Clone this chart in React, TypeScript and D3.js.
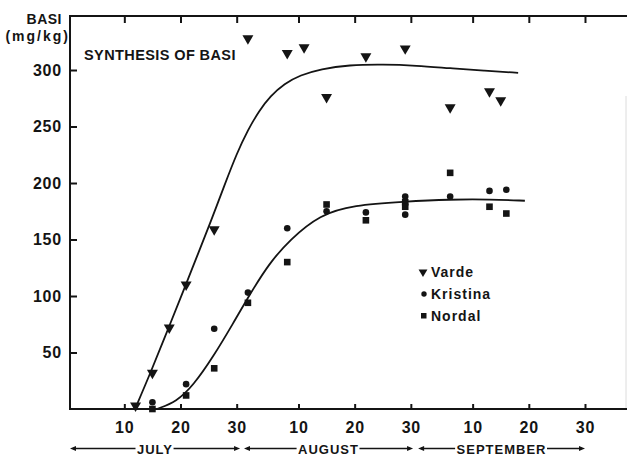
import { useEffect, useRef } from 'react';
import * as d3 from 'd3';

const W = 627;
const H = 456;
const INK = '#141414';
const FONT = '"Liberation Sans", Arial, Helvetica, sans-serif';

// days counted from June 30 (July 1 = 1, August 1 = 32, September 1 = 63)
const vardeDays = [12, 15, 18, 21, 26, 32, 39, 42, 46, 53, 60, 68, 75, 77];
const vardeValues = [3, 32, 72, 110, 159, 328, 315, 320, 276, 312, 319, 267, 281, 273];
const kristinaDays = [15, 21, 26, 32, 39, 46, 53, 60, 60, 68, 75, 78];
const kristinaValues = [6, 22, 71, 103, 160, 175, 174, 188, 172, 188, 193, 194];
const nordalDays = [15, 21, 26, 32, 39, 46, 53, 60, 60, 68, 75, 78];
const nordalValues = [0, 12, 36, 94, 130, 181, 167, 183, 179, 209, 179, 173];

// fitted curves
const vardeFitDays = [11.9, 14.75, 17.8, 20.8, 23, 25.25, 27.9, 30, 32, 34, 36, 38.5, 41.3, 45, 50, 56, 62, 68, 74, 80.1];
const vardeFitValues = [0, 33, 71, 108, 136, 164, 199, 226, 247, 264, 277, 288, 295.5, 301, 304.5, 305, 304, 301.5, 299.5, 297.5];
const basiFitDays = [15.8, 19.3, 22.3, 25.8, 29.4, 32.4, 35.8, 39.5, 44.8, 50.8, 59.7, 68, 75.1, 81.3];
const basiFitValues = [0, 6.5, 21, 46, 76, 102, 129, 150, 172, 180.5, 183.5, 185.5, 185.5, 184.3];

// axes
const xTickDays = [10, 20, 30, 41, 51, 61, 72, 82, 92];
const xTickLabels = ['10', '20', '30', '10', '20', '30', '10', '20', '30'];
const yTicks = [50, 100, 150, 200, 250, 300];

// month arrows under the axis
const monthNames = ['JULY', 'AUGUST', 'SEPTEMBER'];
const monthStart = [0.33, 31.3, 62.3];
const monthEnd = [30.6, 61.4, 92];

const legendNames = ['Varde', 'Kristina', 'Nordal'];

export default function App() {
  const svgRef = useRef<SVGSVGElement>(null);

  useEffect(() => {
    if (!svgRef.current) return;
    const svg = d3.select(svgRef.current);
    svg.selectAll('*').remove();

    const left = 70, right = 626, top = 16, bottom = 409;
    const x = d3.scaleLinear().domain([0.33, 99.3]).range([left, right]);
    const y = d3.scaleLinear().domain([0, 347.8]).range([bottom, top]);

    svg.append('rect').attr('width', W).attr('height', H).attr('fill', '#fff');

    // faint right edge of the frame
    svg.append('line')
      .attr('x1', right).attr('x2', right).attr('y1', top + 80).attr('y2', bottom)
      .attr('stroke', '#dcdcdc').attr('stroke-width', 1);

    // bottom axis
    const gx = svg.append('g').attr('transform', `translate(0,${bottom})`)
      .call(d3.axisBottom(x).tickValues(xTickDays)
        .tickFormat((_, i) => xTickLabels[i])
        .tickSizeInner(-5).tickSizeOuter(0).tickPadding(13));
    gx.select('.domain').remove();

    // top ticks
    const gt = svg.append('g').attr('transform', `translate(0,${top})`)
      .call(d3.axisTop(x).tickValues(xTickDays).tickFormat(() => '')
        .tickSizeInner(-7).tickSizeOuter(0));
    gt.select('.domain').remove();

    // left axis
    const gy = svg.append('g').attr('transform', `translate(${left},0)`)
      .call(d3.axisLeft(y).tickValues(yTicks).tickSizeInner(-7).tickSizeOuter(0).tickPadding(8));
    gy.select('.domain').remove();

    svg.selectAll('.tick line').attr('stroke', INK).attr('stroke-width', 2);
    svg.selectAll('.tick text')
      .attr('fill', INK)
      .style('font-family', FONT)
      .style('font-size', '16px')
      .style('font-weight', 'bold')
      .style('letter-spacing', '0.8px');

    // frame lines
    const frame = svg.append('g').attr('stroke', INK).attr('stroke-width', 2).attr('fill', 'none');
    frame.append('line').attr('x1', left).attr('x2', W).attr('y1', top).attr('y2', top);
    frame.append('line').attr('x1', left).attr('x2', W).attr('y1', bottom).attr('y2', bottom);
    frame.append('line').attr('x1', left).attr('x2', left).attr('y1', top - 1).attr('y2', bottom + 1);

    // fitted curves
    const line = d3.line<number>()
      .curve(d3.curveBasis);
    svg.append('path')
      .attr('d', line.x(d => x(d)).y((_, i) => y(vardeFitValues[i]))(vardeFitDays))
      .attr('fill', 'none').attr('stroke', INK).attr('stroke-width', 1.8);
    svg.append('path')
      .attr('d', line.x(d => x(d)).y((_, i) => y(basiFitValues[i]))(basiFitDays))
      .attr('fill', 'none').attr('stroke', INK).attr('stroke-width', 1.8);

    // markers
    const tri = d3.symbol(d3.symbolTriangle, 52);
    const triSmall = d3.symbol(d3.symbolTriangle, 34);
    svg.append('g').selectAll('path')
      .data(vardeDays)
      .join('path')
      .attr('d', tri)
      .attr('transform', (d, i) => `translate(${x(d)},${y(vardeValues[i])}) rotate(180)`)
      .attr('fill', INK);

    svg.append('g').selectAll('circle')
      .data(kristinaDays)
      .join('circle')
      .attr('cx', d => x(d))
      .attr('cy', (_, i) => y(kristinaValues[i]))
      .attr('r', 3.3)
      .attr('fill', INK);

    svg.append('g').selectAll('rect')
      .data(nordalDays)
      .join('rect')
      .attr('x', d => x(d) - 3.3)
      .attr('y', (_, i) => y(nordalValues[i]) - 3.3)
      .attr('width', 6.6)
      .attr('height', 6.6)
      .attr('fill', INK);

    // legend
    const lg = svg.append('g').attr('transform', 'translate(423,277)');
    legendNames.forEach((name, i) => {
      const row = lg.append('g').attr('transform', `translate(0,${i * 22})`);
      if (i === 0) {
        row.append('path').attr('d', triSmall).attr('transform', 'translate(0,-5) rotate(180)').attr('fill', INK);
      } else if (i === 1) {
        row.append('circle').attr('cx', 1).attr('cy', -5).attr('r', 2.7).attr('fill', INK);
      } else {
        row.append('rect').attr('x', -2).attr('y', -8).attr('width', 5.5).attr('height', 5.5).attr('fill', INK);
      }
      row.append('text')
        .attr('x', 8)
        .attr('fill', INK)
        .style('font-family', FONT)
        .style('font-size', '14px')
        .style('font-weight', 'bold')
        .style('letter-spacing', '1px')
        .text(name);
    });

    // titles
    svg.append('text')
      .attr('x', 84).attr('y', 60)
      .attr('fill', INK)
      .style('font-family', FONT).style('font-size', '14.5px').style('font-weight', 'bold')
      .style('letter-spacing', '0.4px')
      .text('SYNTHESIS OF BASI');
    svg.append('text')
      .attr('x', 62).attr('y', 24).attr('text-anchor', 'end')
      .attr('fill', INK)
      .style('font-family', FONT).style('font-size', '14px').style('font-weight', 'bold')
      .style('letter-spacing', '0.5px')
      .text('BASI');
    svg.append('text')
      .attr('x', 70).attr('y', 41).attr('text-anchor', 'end')
      .attr('fill', INK)
      .style('font-family', FONT).style('font-size', '14px').style('font-weight', 'bold')
      .style('letter-spacing', '2px')
      .text('(mg/kg)');

    // month arrows
    const ay = 448.5;
    const months = svg.append('g');
    monthNames.forEach((name, i) => {
      const x0 = x(monthStart[i]);
      const x1 = x(monthEnd[i]);
      const g = months.append('g');
      g.append('line')
        .attr('x1', x0 + 3).attr('x2', x1 - 3).attr('y1', ay).attr('y2', ay)
        .attr('stroke', INK).attr('stroke-width', 1.4);
      g.append('path')
        .attr('d', `M${x0},${ay}L${x0 + 6},${ay - 2.6}L${x0 + 6},${ay + 2.6}Z`)
        .attr('fill', INK);
      g.append('path')
        .attr('d', `M${x1},${ay}L${x1 - 6},${ay - 2.6}L${x1 - 6},${ay + 2.6}Z`)
        .attr('fill', INK);
      const bg = g.append('rect').attr('fill', '#fff');
      const t = g.append('text')
        .attr('x', (x0 + x1) / 2).attr('y', ay + 5)
        .attr('text-anchor', 'middle')
        .attr('fill', INK)
        .style('font-family', FONT).style('font-size', '13px').style('font-weight', 'bold')
        .style('letter-spacing', '1px')
        .text(name);
      const bb = (t.node() as SVGTextElement).getBBox();
      bg.attr('x', bb.x - 1.5).attr('y', bb.y).attr('width', bb.width + 2).attr('height', bb.height);
    });
  }, []);

  return (
    <svg
      ref={svgRef}
      width={W}
      height={H}
      style={{ position: 'absolute', left: 0, top: 0, display: 'block' }}
    />
  );
}
